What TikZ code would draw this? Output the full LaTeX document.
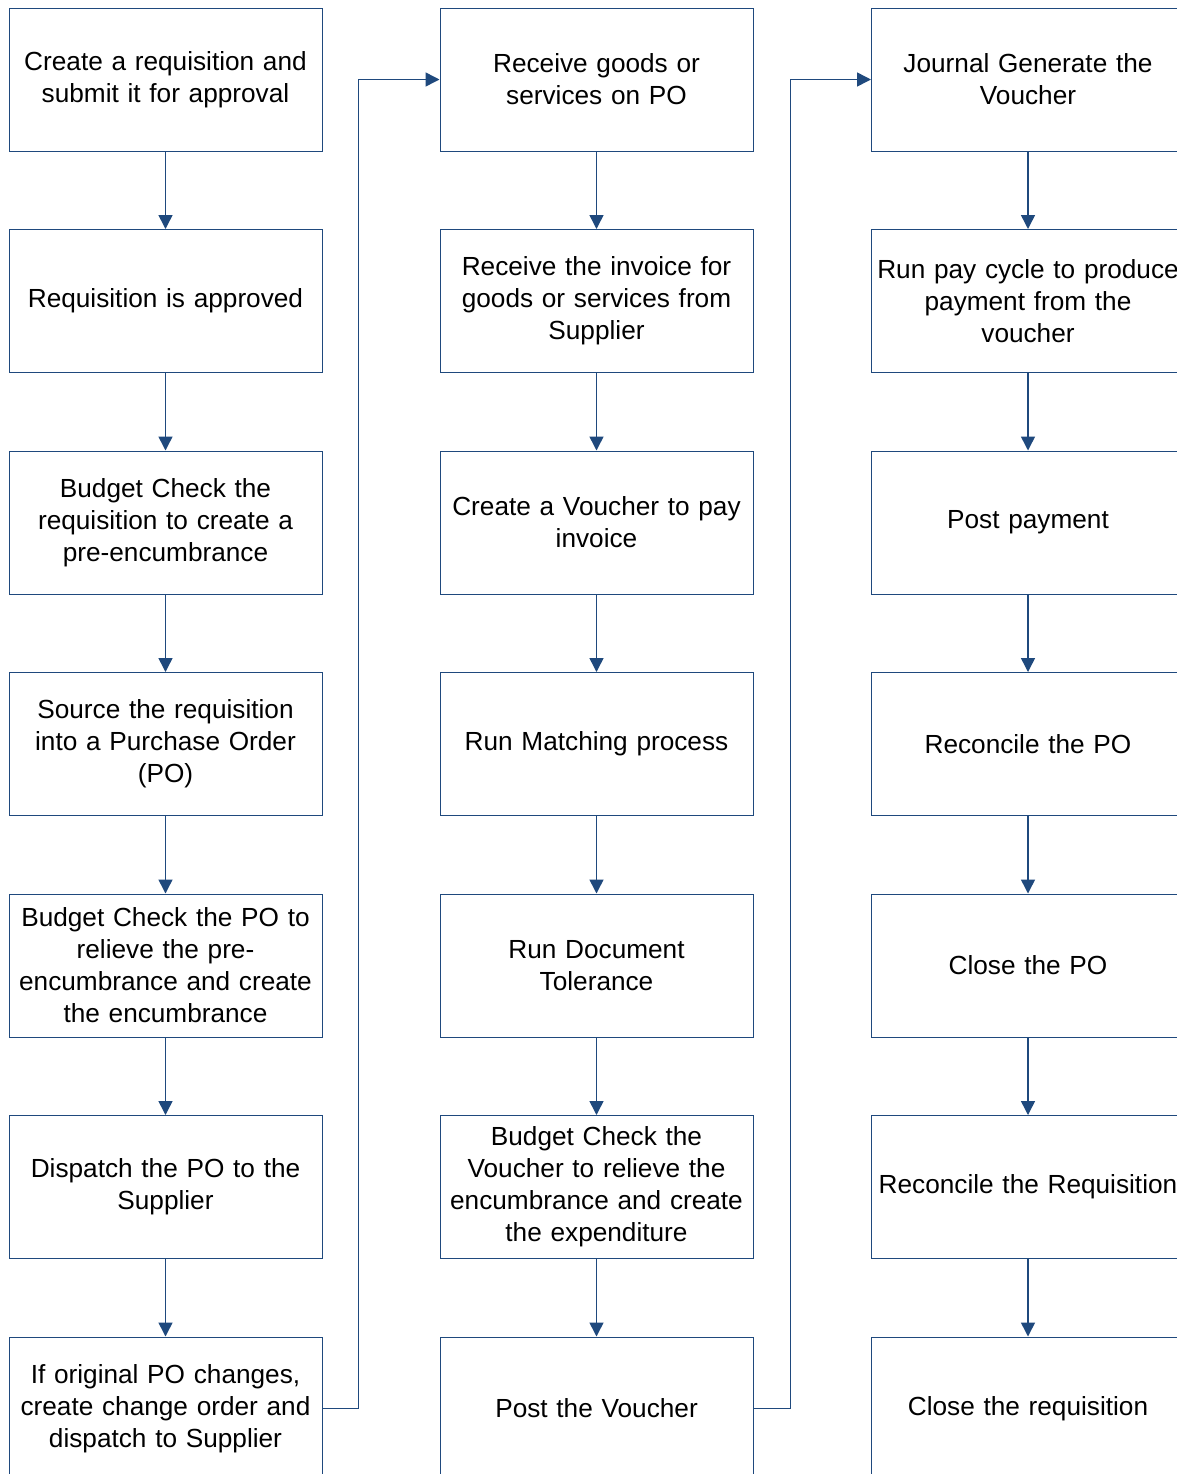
\documentclass[tikz,border=0pt]{standalone}
\usepackage{fontspec}
\setmainfont{Liberation Sans}
\usetikzlibrary{arrows.meta,positioning}
\definecolor{flowblue}{RGB}{31,73,125}

\begin{document}
\begin{tikzpicture}[x=0.5pt,y=-0.5pt,
	task node/.style={rectangle,draw=flowblue,line width=0.5pt,minimum width=156.5pt,minimum height=71.5pt,text width=155pt,align=center,inner sep=0pt,font=\fontsize{13.1}{16}\selectfont},
	flow/.style={draw=flowblue,line width=0.75pt,-{Triangle[length=7pt,width=7pt]}}
]

	\def \p {221.5};
	\def \top {79.5};

	\fill[white,use as bounding box] (0,0) rectangle (1177,1474);
	\clip (0,0) rectangle (1177,1474);

	% first column: requisition to purchase order
	\foreach \t [count=\i] in {{Create a requisition and\\submit it for approval},{Requisition is approved},{Budget Check the\\requisition to create a\\pre-encumbrance},{Source the requisition\\into a Purchase Order\\(PO)},{Budget Check the PO to\\relieve the pre-\\encumbrance and create\\the encumbrance},{Dispatch the PO to the\\Supplier},{If original PO changes,\\create change order and\\dispatch to Supplier}} {
		\node[task node] (a\i) at (165.5,{\top+(\i-1)*\p}) {\t};
	}

	% second column: receiving and voucher
	\foreach \t [count=\i] in {{Receive goods or\\services on PO},{Receive the invoice for\\goods or services from\\Supplier},{Create a Voucher to pay\\invoice},{Run Matching process},{Run Document\\Tolerance},{Budget Check the\\Voucher to relieve the\\encumbrance and create\\the expenditure},{Post the Voucher}} {
		\node[task node] (b\i) at (596.5,{\top+(\i-1)*\p}) {\t};
	}

	% third column: payment and closing
	\foreach \t [count=\i] in {{Journal Generate the\\Voucher},{Run pay cycle to produce\\payment from the\\voucher},{Post payment},{Reconcile the PO},{Close the PO},{Reconcile the Requisition},{Close the requisition}} {
		\node[task node] (c\i) at (1028,{\top+(\i-1)*\p}) {\t};
	}

	\foreach \c in {a,b,c} {
		\foreach \i in {1,...,6} {
			\pgfmathtruncatemacro \j {\i+1}
			\draw[flow] (\c\i) -- (\c\j);
		}
	}

	\draw[flow] (a7.east) -- ++(36,0) |- (b1.west);
	\draw[flow] (b7.east) -- ++(37,0) |- (c1.west);
\end{tikzpicture}
\end{document}
